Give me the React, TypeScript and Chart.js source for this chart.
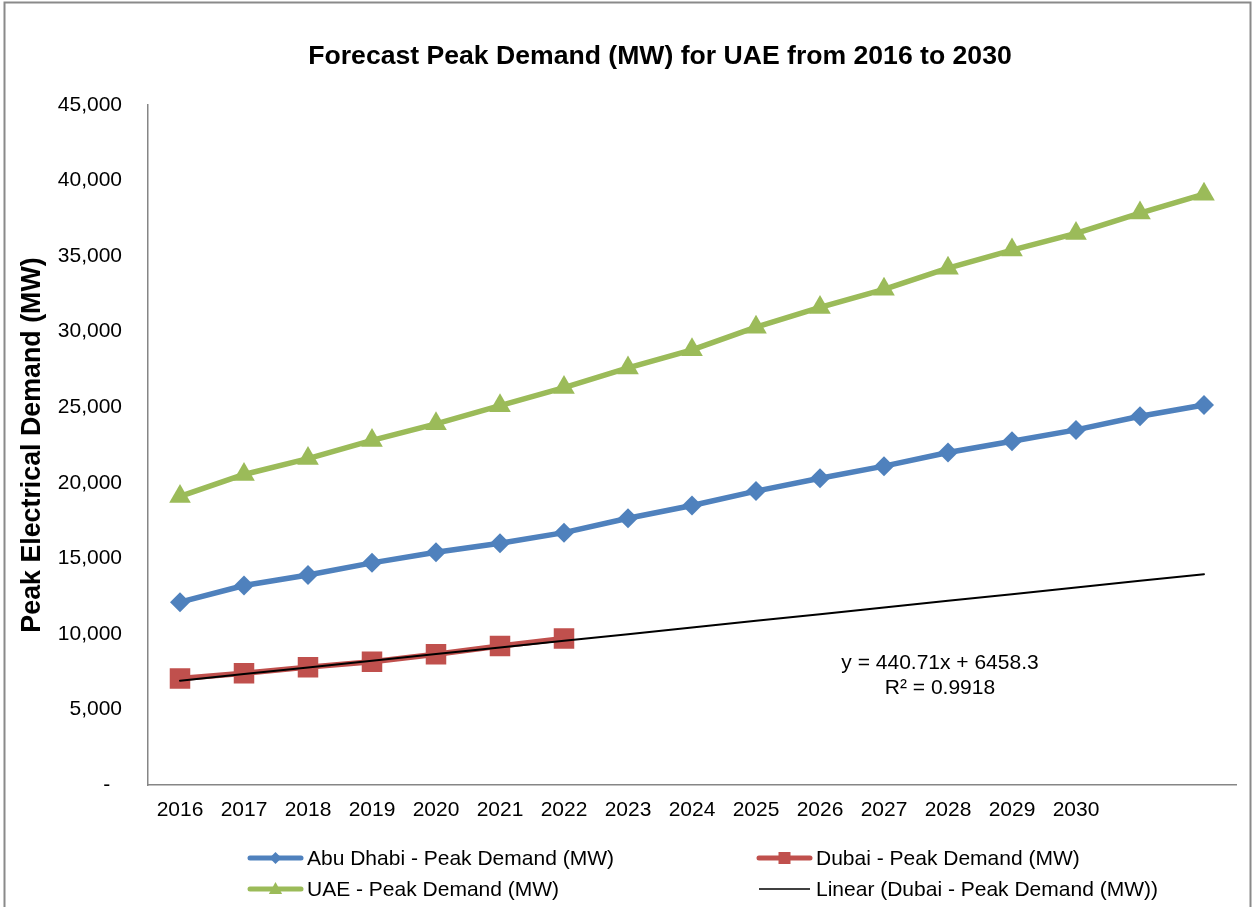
import React, { useEffect, useRef } from 'react';
import { Chart, registerables } from 'chart.js';

Chart.register(...registerables);

const FONT = '"Liberation Sans", Arial, sans-serif';

// ---- data ----
const categories = ['2016', '2017', '2018', '2019', '2020', '2021', '2022', '2023', '2024', '2025', '2026', '2027', '2028', '2029', '2030', '', ''];
const abuDhabi = [12100, 13200, 13900, 14700, 15400, 16000, 16700, 17650, 18500, 19450, 20300, 21100, 22000, 22750, 23500, 24400, 25150];
const dubai = [7050, 7400, 7800, 8150, 8650, 9200, 9700, null, null, null, null, null, null, null, null, null, null];
const uae = [19100, 20550, 21600, 22800, 23900, 25100, 26300, 27600, 28800, 30300, 31600, 32800, 34200, 35400, 36500, 37850, 39100];
const dubaiTrend = [6899, 7340, 7781, 8221, 8662, 9103, 9543, 9984, 10425, 10865, 11306, 11747, 12187, 12628, 13069, 13510, 13950];
const seriesNames = ['Abu Dhabi - Peak Demand (MW)', 'Dubai - Peak Demand (MW)', 'UAE - Peak Demand (MW)', 'Linear (Dubai - Peak Demand (MW))'];
const chartTitle = 'Forecast Peak Demand (MW) for UAE from 2016 to 2030';
const yAxisTitle = 'Peak Electrical Demand (MW)';
const trendEquation = 'y = 440.71x + 6458.3';
const trendR2 = 'R² = 0.9918';

const BLUE = '#4F81BD';
const RED = '#C0504D';
const GREEN = '#9BBB59';

function drawMarker(ctx: CanvasRenderingContext2D, kind: string, x: number, y: number, r: number, color: string) {
  ctx.save();
  ctx.fillStyle = color;
  ctx.beginPath();
  if (kind === 'diamond') {
    ctx.moveTo(x, y - r);
    ctx.lineTo(x + r, y);
    ctx.lineTo(x, y + r);
    ctx.lineTo(x - r, y);
  } else if (kind === 'square') {
    ctx.rect(x - r, y - r, 2 * r, 2 * r);
  } else if (kind === 'triangle') {
    ctx.moveTo(x, y - r);
    ctx.lineTo(x + r * 0.95, y + r * 0.7);
    ctx.lineTo(x - r * 0.95, y + r * 0.7);
  }
  ctx.closePath();
  ctx.fill();
  ctx.restore();
}

export default function App() {
  const ref = useRef<HTMLCanvasElement>(null);

  useEffect(() => {
    const canvas = ref.current;
    if (!canvas) return;

    const chrome = {
      id: 'chrome',
      beforeDraw(chart: any) {
        const ctx = chart.ctx;
        ctx.save();
        ctx.fillStyle = '#ffffff';
        ctx.fillRect(0, 0, chart.width, chart.height);
        ctx.restore();
      },
      afterDraw(chart: any) {
        const ctx: CanvasRenderingContext2D = chart.ctx;
        ctx.save();
        // outer frame
        ctx.strokeStyle = '#8a8a8a';
        ctx.lineWidth = 2;
        ctx.strokeRect(4.5, 2.5, 1246, 930);

        // title
        ctx.fillStyle = '#000';
        ctx.font = `bold 26.6px ${FONT}`;
        ctx.textAlign = 'center';
        ctx.textBaseline = 'middle';
        ctx.fillText(chartTitle, 660, 57);

        // trendline equation
        ctx.font = `21px ${FONT}`;
        ctx.fillText(trendEquation, 940, 663);
        ctx.fillText(trendR2, 940, 688);

        // legend
        const items = [
          { name: seriesNames[0], color: BLUE, marker: 'diamond', r: 6, x: 248, y: 858, w: 5 },
          { name: seriesNames[1], color: RED, marker: 'square', r: 6, x: 757, y: 858, w: 5 },
          { name: seriesNames[2], color: GREEN, marker: 'triangle', r: 7, x: 248, y: 889, w: 5 },
          { name: seriesNames[3], color: '#000', marker: '', r: 0, x: 757, y: 889, w: 1.5 },
        ];
        ctx.textAlign = 'left';
        for (const it of items) {
          ctx.strokeStyle = it.color;
          ctx.lineWidth = it.w;
          ctx.lineCap = it.marker ? 'round' : 'butt';
          ctx.beginPath();
          ctx.moveTo(it.x + 2, it.y);
          ctx.lineTo(it.x + 53, it.y);
          ctx.stroke();
          if (it.marker) drawMarker(ctx, it.marker, it.x + 27.5, it.y, it.r, it.color);
          ctx.fillStyle = '#000';
          ctx.font = `21px ${FONT}`;
          ctx.fillText(it.name, it.x + 59, it.y + 1);
        }
        ctx.restore();
      },
    };

    const chart = new Chart(canvas, {
      type: 'line',
      data: {
        labels: categories,
        datasets: [
          {
            label: seriesNames[0],
            data: abuDhabi,
            borderColor: BLUE,
            backgroundColor: BLUE,
            borderWidth: 5.5,
            pointStyle: 'rectRot',
            pointRadius: 10,
            pointBorderWidth: 0,
            tension: 0,
            order: 3,
          },
          {
            label: seriesNames[1],
            data: dubai,
            borderColor: RED,
            backgroundColor: RED,
            borderWidth: 5.5,
            pointStyle: 'rect',
            pointRadius: 14.5,
            pointBorderWidth: 0,
            tension: 0,
            order: 2,
          },
          {
            label: seriesNames[2],
            data: uae,
            borderColor: GREEN,
            backgroundColor: GREEN,
            borderWidth: 5.5,
            pointStyle: 'triangle',
            pointRadius: 12.5,
            pointBorderWidth: 0,
            tension: 0,
            order: 4,
          },
          {
            label: seriesNames[3],
            data: dubaiTrend,
            borderColor: '#000000',
            backgroundColor: '#000000',
            borderWidth: 2,
            pointRadius: 0,
            tension: 0,
            order: 1,
          },
        ] as any,
      },
      options: {
        responsive: false,
        animation: false,
        devicePixelRatio: 1,
        layout: { padding: { left: 0, top: 105, right: 18, bottom: 0 } },
        plugins: {
          legend: { display: false },
          title: { display: false },
          tooltip: { enabled: false },
        },
        elements: { line: { borderCapStyle: 'round', borderJoinStyle: 'round' } },
        scales: {
          x: {
            offset: true,
            grid: { display: false, drawTicks: false, offset: true },
            border: { display: true, color: '#868686', width: 1.5 },
            ticks: {
              autoSkip: false,
              maxRotation: 0,
              minRotation: 0,
              padding: 13,
              color: '#000',
              font: { family: FONT, size: 21 },
            },
            afterFit: (s: any) => {
              s.height = 122;
            },
          },
          y: {
            min: 0,
            max: 45000,
            grid: { display: false, drawTicks: false },
            border: { display: true, color: '#868686', width: 1.5 },
            ticks: {
              stepSize: 5000,
              padding: 26,
              color: '#000',
              font: { family: FONT, size: 21 },
              callback: (v: any) => (Number(v) === 0 ? '-  ' : Number(v).toLocaleString('en-US')),
            },
            title: {
              display: true,
              text: yAxisTitle,
              color: '#000',
              font: { family: FONT, size: 26.8, weight: 'bold' },
              padding: { top: 17, bottom: 0 },
            },
            afterFit: (s: any) => {
              s.width = 148;
            },
          },
        },
      } as any,
      plugins: [chrome],
    });

    return () => chart.destroy();
  }, []);

  return (
    <div style={{ position: 'absolute', left: 0, top: 0, width: 1254, height: 907, background: '#fff' }}>
      <canvas ref={ref} width={1254} height={907} style={{ display: 'block' }} />
    </div>
  );
}
